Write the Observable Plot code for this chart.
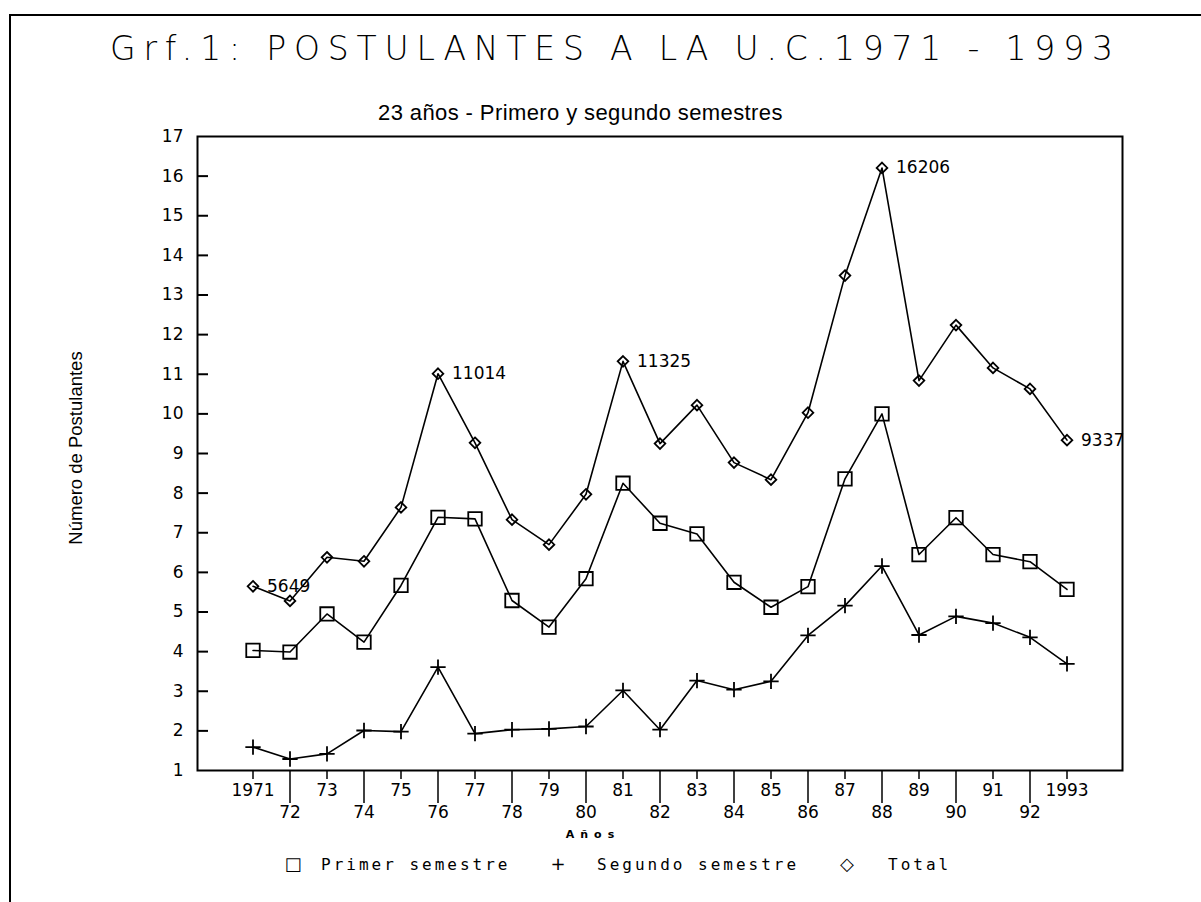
<!DOCTYPE html>
<html>
<head>
<meta charset="utf-8">
<script src="https://cdn.jsdelivr.net/npm/d3@7"></script>
<script src="https://cdn.jsdelivr.net/npm/@observablehq/plot@0.6"></script>
<style>
  body { margin: 0; background: #fff; }
  #wrap { position: relative; width: 1201px; height: 902px; overflow: hidden; background: #fff; }
  .abs { position: absolute; white-space: nowrap; color: #000; }
  #frameTop { left: 9px; top: 14px; width: 1192px; height: 2px; background: #000; }
  #frameLeft { left: 9px; top: 14px; width: 2px; height: 888px; background: #000; }
  #title { left: 110px; top: 32px; font-family: "DejaVu Sans"; font-weight: 200; font-size: 33px; line-height: 33px; }
  #subtitle { left: 378px; top: 102px; font-family: "Liberation Sans"; font-size: 22px; line-height: 22px; letter-spacing: 0.4px; }
  #ylabel { left: 75px; top: 448px; transform: translate(-50%, -50%) rotate(-90deg); font-family: "Liberation Sans"; font-size: 18.5px; line-height: 19px; }
  #xlabel { left: 493px; width: 200px; top: 828px; text-align: center; font-family: "DejaVu Sans"; font-weight: bold; font-size: 11px; line-height: 14px; letter-spacing: 6px; }
  .leg { top: 855px; font-family: "DejaVu Sans Mono"; font-size: 16px; line-height: 19px; letter-spacing: 3px; }
  .sym { top: 853px; font-family: "DejaVu Sans"; font-size: 18px; line-height: 21px; transform: translateX(-50%); }
  #chart { position: absolute; left: 0; top: 0; }
</style>
</head>
<body>
<div id="wrap">
  <div id="chart"></div>
  <div class="abs" id="frameTop"></div>
  <div class="abs" id="frameLeft"></div>
  <div class="abs" id="title">Grf.1: POSTULANTES A LA U.C.1971 - 1993</div>
  <div class="abs" id="subtitle">23 años - Primero y segundo semestres</div>
  <div class="abs" id="ylabel">Número de Postulantes</div>
  <div class="abs" id="xlabel">Años</div>
  <div class="abs sym" style="left:293px">□</div>
  <div class="abs leg" style="left:321px">Primer semestre</div>
  <div class="abs sym" style="left:558px">+</div>
  <div class="abs leg" style="left:597px">Segundo semestre</div>
  <div class="abs sym" style="left:847px">◇</div>
  <div class="abs leg" style="left:888px">Total</div>
</div>
<script>
// Years (categories)
const years = [1971, 1972, 1973, 1974, 1975, 1976, 1977, 1978, 1979, 1980, 1981, 1982,
               1983, 1984, 1985, 1986, 1987, 1988, 1989, 1990, 1991, 1992, 1993];
// Tick labels as printed on the x axis
const yearLabels = ["1971", "72", "73", "74", "75", "76", "77", "78", "79", "80", "81", "82",
                    "83", "84", "85", "86", "87", "88", "89", "90", "91", "92", "1993"];
// Series (thousands of applicants)
const primer  = [4.03, 3.99, 4.95, 4.24, 5.67, 7.39, 7.35, 5.29, 4.62, 5.84, 8.25, 7.24,
                 6.97, 5.75, 5.12, 5.64, 8.36, 10.0, 6.45, 7.38, 6.45, 6.27, 5.57];
const segundo = [1.59, 1.29, 1.42, 2.01, 1.98, 3.61, 1.93, 2.03, 2.05, 2.11, 3.02, 2.03,
                 3.27, 3.04, 3.25, 4.41, 5.16, 6.16, 4.42, 4.89, 4.72, 4.36, 3.69];
const total   = [5.649, 5.28, 6.38, 6.28, 7.64, 11.014, 9.27, 7.33, 6.70, 7.97, 11.325, 9.25,
                 10.22, 8.77, 8.34, 10.03, 13.49, 16.206, 10.84, 12.24, 11.16, 10.63, 9.337];
// Annotated total values
const annotYears = [1971, 1976, 1981, 1988, 1993];
const annotTexts = ["5649", "11014", "11325", "16206", "9337"];
// Y ticks
const yTicks = [1, 2, 3, 4, 5, 6, 7, 8, 9, 10, 11, 12, 13, 14, 15, 16, 17];

const rows = years.map((yr, i) => ({year: yr, primer: primer[i], segundo: segundo[i], total: total[i]}));
const annots = annotYears.map((yr, i) => ({year: yr, value: total[years.indexOf(yr)], text: annotTexts[i]}));
const labelOf = new Map(years.map((yr, i) => [yr, yearLabels[i]]));
const oddYears = years.filter((y, i) => i % 2 === 0);
const evenYears = years.filter((y, i) => i % 2 === 1);

const W = 1201, H = 902;
const mL = 197, mR = 79, mT = 136, mB = 132;
const innerW = W - mL - mR;

const chart = Plot.plot({
  width: W,
  height: H,
  marginLeft: mL,
  marginRight: mR,
  marginTop: mT,
  marginBottom: mB,
  style: {fontFamily: "DejaVu Sans", fontSize: "17px", color: "#000", background: "transparent", overflow: "visible"},
  x: {domain: [1969.5, 1994.5], label: null},
  y: {domain: [1, 17], label: null},
  marks: [
    Plot.frame({stroke: "#000", strokeWidth: 2}),
    Plot.ruleY(yTicks.slice(1, -1), {stroke: "#000", strokeWidth: 2, insetRight: innerW - 11}),
    Plot.axisY({ticks: yTicks, tickSize: 0, tickPadding: 14, fontSize: 17, label: null}),
    Plot.axisX({ticks: oddYears, tickSize: 9, tickPadding: 4, tickFormat: d => labelOf.get(d), fontSize: 17, strokeWidth: 1.5, label: null}),
    Plot.axisX({ticks: evenYears, tickSize: 33, tickPadding: 2, tickFormat: d => labelOf.get(d), fontSize: 17, strokeWidth: 1.5, label: null}),
    Plot.line(rows, {x: "year", y: "total", stroke: "#000", strokeWidth: 1.6}),
    Plot.line(rows, {x: "year", y: "primer", stroke: "#000", strokeWidth: 1.6}),
    Plot.line(rows, {x: "year", y: "segundo", stroke: "#000", strokeWidth: 1.6}),
    Plot.dot(rows, {x: "year", y: "total", symbol: "diamond2", r: 4.8, stroke: "#000", strokeWidth: 1.8, fill: "none"}),
    Plot.dot(rows, {x: "year", y: "primer", symbol: "square", r: 7.6, stroke: "#000", strokeWidth: 1.8, fill: "none"}),
    Plot.dot(rows, {x: "year", y: "segundo", symbol: "plus", r: 5, stroke: "#000", strokeWidth: 1.8}),
    Plot.text(annots, {x: "year", y: "value", text: "text", textAnchor: "start", dx: 14, fontSize: 17, fill: "#000"})
  ]
});
document.getElementById("chart").appendChild(chart);

// Stretch the title's letter spacing so it spans the same width as the original heading
const title = document.getElementById("title");
const target = 1003;
const w0 = title.getBoundingClientRect().width;
const n = title.textContent.length;
title.style.letterSpacing = ((target - w0) / (n - 1)) + "px";
</script>
</body>
</html>
